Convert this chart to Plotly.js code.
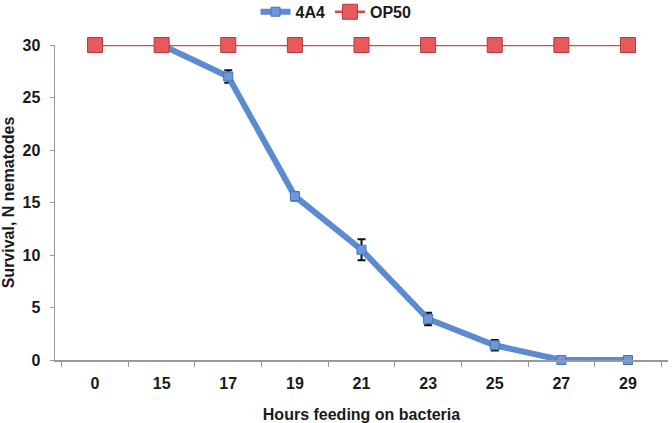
<!DOCTYPE html>
<html><head><meta charset="utf-8">
<script src="https://cdn.plot.ly/plotly-3.0.1.min.js"></script>
<style>body{margin:0;background:#fff}#chart{width:672px;height:423px}</style>
</head><body><div id="chart"></div>
<script>
const hours = ["0","15","17","19","21","23","25","27","29"];
const survival4A4 = [null, 30, 27, 15.6, 10.5, 3.9, 1.4, 0, 0];
const err4A4 = [0, 0, 0.6, 0.4, 1.0, 0.6, 0.5, 0, 0];
const survivalOP50 = [30, 30, 30, 30, 30, 30, 30, 30, 30];

const traces = [
  {x: hours, y: survival4A4, name: "4A4", type: "scatter", mode: "lines+markers",
   line: {color: "#5b8bd0", width: 6},
   marker: {symbol: "square", size: 9, color: "#6b98dc", line: {color: "#4a74b4", width: 1}},
   error_y: {type: "data", array: err4A4, visible: true, color: "#111", thickness: 2, width: 4},
   cliponaxis: false, connectgaps: false},
  {x: hours, y: survivalOP50, name: "OP50", type: "scatter", mode: "lines+markers",
   line: {color: "#d9474a", width: 2.5},
   marker: {symbol: "square", size: 15, color: "#e65a5c", line: {color: "#b83a3c", width: 1}},
   cliponaxis: false}
];

const fam = "Liberation Sans, Arial, sans-serif";
const txt = {family: fam, size: 16, weight: "bold", color: "#1a1a1a"};
const layout = {
  width: 672, height: 423,
  margin: {l: 55, r: 4, t: 45, b: 63},
  paper_bgcolor: "#fff", plot_bgcolor: "#fff",
  font: {family: fam, color: "#1a1a1a", size: 16},
  showlegend: true,
  legend: {orientation: "h", x: 0.5, xanchor: "center", xref: "container",
           y: 0.972, yanchor: "middle", yref: "container",
           font: txt, traceorder: "normal", itemwidth: 30},
  xaxis: {type: "category", showgrid: false, zeroline: false, showline: true,
          linecolor: "#999", linewidth: 1.5, ticks: "outside", tickson: "boundaries",
          ticklen: 5, tickcolor: "#999", tickfont: txt, automargin: false,
          ticklabelstandoff: 8,
          title: {text: "Hours feeding on bacteria", font: txt, standoff: 22}},
  yaxis: {range: [0, 30], dtick: 5, showgrid: false, zeroline: false, showline: true,
          linecolor: "#999", linewidth: 1.5, ticks: "outside", ticklen: 4, tickcolor: "#999",
          tickfont: txt, automargin: false, ticklabelstandoff: 6,
          title: {text: "Survival, N nematodes", font: txt, standoff: 8}}
};
Plotly.newPlot("chart", traces, layout, {displayModeBar: false, staticPlot: true});
</script></body></html>
